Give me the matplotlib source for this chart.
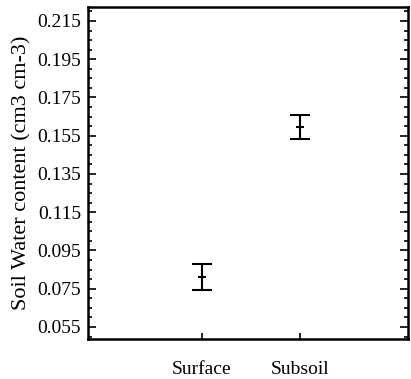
import matplotlib
matplotlib.use('Agg')
import matplotlib.pyplot as plt
from matplotlib.ticker import AutoMinorLocator

plt.rcParams['font.family'] = ['Liberation Serif', 'DejaVu Serif']

categories = ['Surface', 'Subsoil']
means = [0.0810, 0.1595]
errors = [0.0067, 0.0062]
yticks = [0.055, 0.075, 0.095, 0.115, 0.135, 0.155, 0.175, 0.195, 0.215]

fig = plt.figure(figsize=(4.11, 3.79), dpi=100)
ax = fig.add_axes([0.214, 0.1055, 0.779, 0.876])

xpos = [1, 2]
ax.errorbar(xpos, means, yerr=errors, fmt='_', color='black', ecolor='black',
            elinewidth=1.5, capsize=7.5, capthick=1.5, markersize=6, mew=1.5)

ax.set_xlim(-0.16, 3.10)
ax.set_ylim(0.0487, 0.2223)
ax.set_yticks(yticks)
ax.set_yticklabels(['%.3f' % v for v in yticks], fontsize=14)
ax.yaxis.set_minor_locator(AutoMinorLocator(4))
ax.set_xticks(xpos)
ax.set_xticklabels(categories, fontsize=14)

ax.tick_params(axis='y', which='both', direction='in', left=True, right=True, width=1.2, pad=5)
ax.tick_params(axis='y', which='major', length=6)
ax.tick_params(axis='y', which='minor', length=3)
ax.tick_params(axis='x', direction='in', length=4, width=1.2, pad=16)

for s in ax.spines.values():
    s.set_linewidth(1.8)

ax.set_ylabel('Soil Water content (cm3 cm-3)', fontsize=16, labelpad=4)

fig.savefig('out.png', dpi=100)
